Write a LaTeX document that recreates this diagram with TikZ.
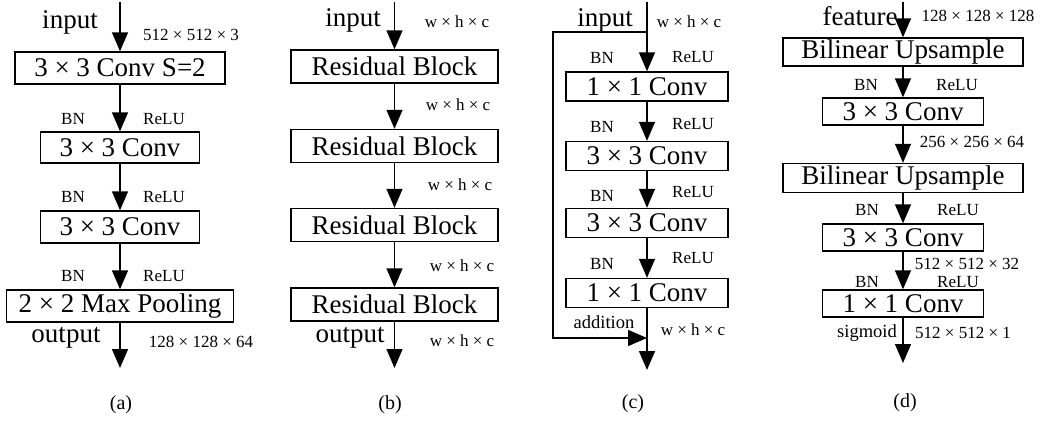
\documentclass[tikz,border=0pt]{standalone}
\usepackage{fontspec}
\setmainfont{Liberation Serif}
\usetikzlibrary{arrows.meta}
\begin{document}
\begin{tikzpicture}[x=1pt,y=-1pt,
  arr/.style={-{Triangle[width=16pt,length=19pt]}, line width=1.4pt},
  blk/.style={draw, line width=1.4pt, inner sep=0pt, font=\fontsize{27}{30}\selectfont},
  big/.style={inner sep=0pt, font=\fontsize{27}{30}\selectfont},
  lbl/.style={inner sep=0pt, font=\fontsize{17}{20}\selectfont},
  mid/.style={inner sep=0pt, font=\fontsize{18.5}{22}\selectfont},
  captxt/.style={inner sep=0pt, font=\fontsize{20}{24}\selectfont}]
\useasboundingbox (0,0) rectangle (1042,424);

% ---------------- (a) ----------------
\coordinate (a0) at (120,2);
\node[blk, minimum width=210pt, minimum height=32pt] (a1) at (120,68) {3 × 3 Conv S=2};
\node[blk, minimum width=159pt, minimum height=31pt] (a2) at (120,147.5) {3 × 3 Conv};
\node[blk, minimum width=159pt, minimum height=32pt] (a3) at (120,227) {3 × 3 Conv};
\node[blk, minimum width=227pt, minimum height=32pt] (a4) at (120,306) {2 × 2 Max Pooling};
\coordinate (a5) at (120,368);
\draw[arr] (a0) -- (a1.north);
\draw[arr] (a1.south) -- (a2.north);
\draw[arr] (a2.south) -- (a3.north);
\draw[arr] (a3.south) -- (a4.north);
\draw[arr] (a4.south) -- (a5);
\node[big] (ain) at (70,22) {input};
\node[lbl] (adim) at (191,35) {512 × 512 × 3};
\node[lbl] (abn1) at (73,119) {BN};
\node[lbl] (arl1) at (164,119) {ReLU};
\node[lbl] (abn2) at (73,197) {BN};
\node[lbl] (arl2) at (164,197) {ReLU};
\node[lbl] (abn3) at (73,276) {BN};
\node[lbl] (arl3) at (164,276) {ReLU};
\node[big] (aout) at (66,338) {output};
\node[lbl] (adim2) at (201,342) {128 × 128 × 64};
\node[captxt] (acap) at (121,405) {(a)};

% ---------------- (b) ----------------
\coordinate (b0) at (394.5,2);
\node[blk, minimum width=207pt, minimum height=33pt] (b1) at (394.5,66.5) {Residual Block};
\node[blk, minimum width=207pt, minimum height=33pt] (b2) at (394.5,146) {Residual Block};
\node[blk, minimum width=207pt, minimum height=33pt] (b3) at (394.5,225) {Residual Block};
\node[blk, minimum width=207pt, minimum height=33pt] (b4) at (394.5,304.5) {Residual Block};
\coordinate (b5) at (394.5,368);
\draw[arr] (b0) -- (b1.north);
\draw[arr] (b1.south) -- (b2.north);
\draw[arr] (b2.south) -- (b3.north);
\draw[arr] (b3.south) -- (b4.north);
\draw[arr] (b4.south) -- (b5);
\node[big] (bin) at (353,20) {input};
\node[lbl] (bd1) at (457,22) {w × h × c};
\node[lbl] (bd2) at (458,105) {w × h × c};
\node[lbl] (bd3) at (460,185) {w × h × c};
\node[lbl] (bd4) at (462,266) {w × h × c};
\node[big] (bout) at (350,338) {output};
\node[lbl] (bd5) at (462,341) {w × h × c};
\node[captxt] (bcap) at (390,405) {(b)};

% ---------------- (c) ----------------
\coordinate (c0) at (647,2);
\coordinate (csplit) at (647,32);
\coordinate (cleft) at (553,200);
\coordinate (cadd) at (647,338);
\node[blk, minimum width=162pt, minimum height=29pt] (c1) at (647,86.5) {1 × 1 Conv};
\node[blk, minimum width=162pt, minimum height=29pt] (c2) at (647,156) {3 × 3 Conv};
\node[blk, minimum width=162pt, minimum height=29pt] (c3) at (647,223) {3 × 3 Conv};
\node[blk, minimum width=162pt, minimum height=29pt] (c4) at (647,293) {1 × 1 Conv};
\coordinate (c5) at (647,370);
\draw[arr] (c0) -- (c1.north);
\draw[arr] (c1.south) -- (c2.north);
\draw[arr] (c2.south) -- (c3.north);
\draw[arr] (c3.south) -- (c4.north);
\draw[arr] (c4.south) -- (c5);
\draw[arr] (csplit) -| (cleft) |- (cadd);
\node[big] (cin) at (605,20) {input};
\node[lbl] (cd1) at (689,22) {w × h × c};
\node[lbl] (cbn1) at (602,58) {BN};
\node[lbl] (crl1) at (693,57) {ReLU};
\node[lbl] (cbn2) at (602,127) {BN};
\node[lbl] (crl2) at (693,124) {ReLU};
\node[lbl] (cbn3) at (602,196) {BN};
\node[lbl] (crl3) at (693,192) {ReLU};
\node[lbl] (cbn4) at (602,264) {BN};
\node[lbl] (crl4) at (693,258) {ReLU};
\node[mid] (cadl) at (604,322) {addition};
\node[lbl] (cd2) at (693,330) {w × h × c};
\node[captxt] (ccap) at (633,404) {(c)};

% ---------------- (d) ----------------
\coordinate (d0) at (903,2);
\node[blk, minimum width=240pt, minimum height=28pt] (d1) at (903,52) {Bilinear Upsample};
\node[blk, minimum width=161pt, minimum height=27pt] (d2) at (903,111.5) {3 × 3 Conv};
\node[blk, minimum width=240pt, minimum height=29pt] (d3) at (903,178) {Bilinear Upsample};
\node[blk, minimum width=161pt, minimum height=27pt] (d4) at (903,237.5) {3 × 3 Conv};
\node[blk, minimum width=161pt, minimum height=27pt] (d5) at (903,303.5) {1 × 1 Conv};
\coordinate (d6) at (903,363);
\draw[arr] (d0) -- (d1.north);
\draw[arr] (d1.south) -- (d2.north);
\draw[arr] (d2.south) -- (d3.north);
\draw[arr] (d3.south) -- (d4.north);
\draw[arr] (d4.south) -- (d5.north);
\draw[arr] (d5.south) -- (d6);
\node[big] (dfeat) at (860,16) {feature};
\node[lbl] (dd1) at (978,16) {128 × 128 × 128};
\node[lbl] (dbn1) at (866,85) {BN};
\node[lbl] (drl1) at (957,85) {ReLU};
\node[lbl] (dd2) at (972,142) {256 × 256 × 64};
\node[lbl] (dbn2) at (867,210) {BN};
\node[lbl] (drl2) at (958,210) {ReLU};
\node[lbl] (dd3) at (967,264) {512 × 512 × 32};
\node[lbl] (dbn3) at (867,282) {BN};
\node[lbl] (drl3) at (958,282) {ReLU};
\node[mid] (dsig) at (867,333) {sigmoid};
\node[lbl] (dd4) at (963,333) {512 × 512 × 1};
\node[captxt] (dcap) at (905,403) {(d)};
\end{tikzpicture}
\end{document}
